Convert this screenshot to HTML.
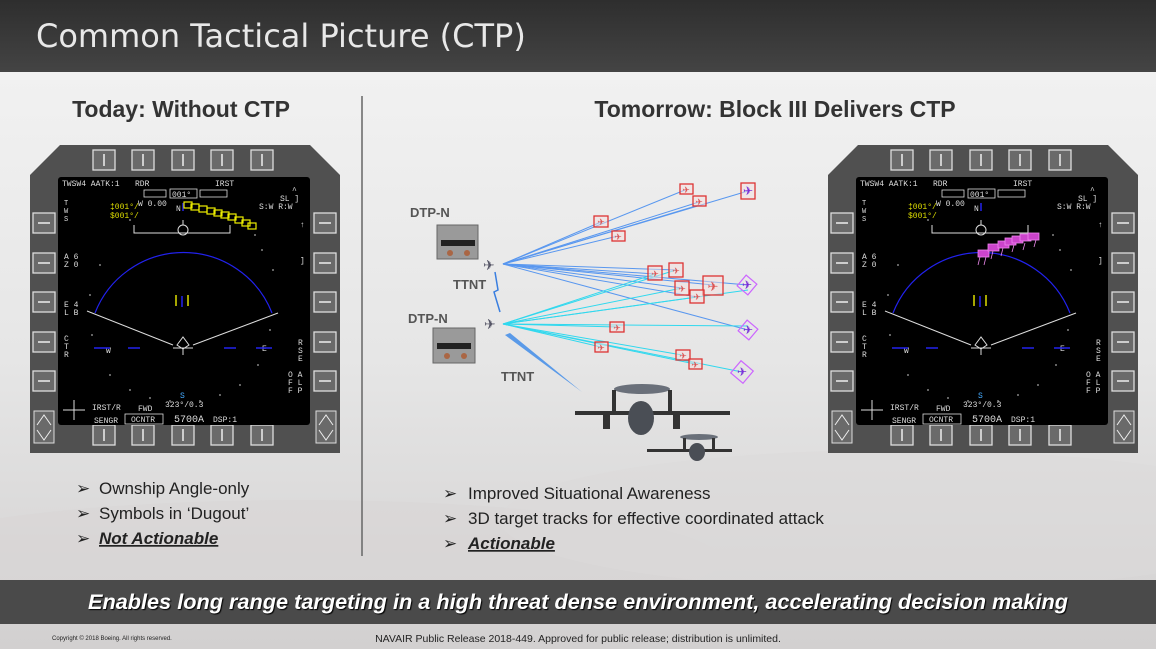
<!DOCTYPE html>
<html><head><meta charset="utf-8"><style>
html,body{margin:0;padding:0;width:1156px;height:649px;overflow:hidden;}
svg{display:block}
</style></head><body>
<svg width="1156" height="649" viewBox="0 0 1156 649" xmlns="http://www.w3.org/2000/svg" font-family="Liberation Sans, sans-serif">
<defs>
<linearGradient id="bg" x1="0" y1="0" x2="0" y2="1">
<stop offset="0" stop-color="#f4f4f4"/><stop offset="0.55" stop-color="#e6e6e6"/><stop offset="1" stop-color="#d2d0d0"/>
</linearGradient>
<linearGradient id="hd" x1="0" y1="0" x2="0" y2="1">
<stop offset="0" stop-color="#2e2e2e"/><stop offset="1" stop-color="#444"/>
</linearGradient>
<g id="btn"><rect x="-11" y="-10" width="22" height="20" fill="#6a6a6a" stroke="#ddd" stroke-width="1.3"/><line x1="0" y1="-6" x2="0" y2="6" stroke="#eee" stroke-width="1.5"/></g>
<g id="sbtn"><rect x="-11" y="-10" width="22" height="20" fill="#6a6a6a" stroke="#ddd" stroke-width="1.3"/><line x1="-6" y1="0" x2="6" y2="0" stroke="#eee" stroke-width="1.5"/></g>
<g id="mfd">
<path d="M0,30 L30,0 L280,0 L310,30 L310,308 L0,308 Z" fill="#505050"/>
<use href="#btn" x="74" y="15"/><use href="#btn" x="113" y="15"/><use href="#btn" x="153" y="15"/><use href="#btn" x="192" y="15"/><use href="#btn" x="232" y="15"/>
<use href="#btn" x="74" y="290"/><use href="#btn" x="113" y="290"/><use href="#btn" x="153" y="290"/><use href="#btn" x="192" y="290"/><use href="#btn" x="232" y="290"/>
<use href="#sbtn" x="14" y="78"/><use href="#sbtn" x="14" y="118"/><use href="#sbtn" x="14" y="157"/><use href="#sbtn" x="14" y="197"/><use href="#sbtn" x="14" y="236"/>
<use href="#sbtn" x="295" y="78"/><use href="#sbtn" x="295" y="118"/><use href="#sbtn" x="295" y="157"/><use href="#sbtn" x="295" y="197"/><use href="#sbtn" x="295" y="236"/>
<rect x="4" y="266" width="20" height="32" fill="#6a6a6a" stroke="#ddd"/><path d="M7,280 L14,270 L21,280 M7,285 L14,295 L21,285" stroke="#eee" fill="none"/>
<rect x="286" y="266" width="20" height="32" fill="#6a6a6a" stroke="#ddd"/><path d="M289,280 L296,270 L303,280 M289,285 L296,295 L303,285" stroke="#eee" fill="none"/>
<rect x="28" y="32" width="252" height="248" rx="3" fill="#000"/>
<g fill="#ddd" font-family="Liberation Mono, monospace" font-size="8">
<text x="32" y="41">TWSW4 AATK:1</text><text x="105" y="41">RDR</text><text x="185" y="41">IRST</text>
<rect x="114" y="45" width="22" height="7" fill="none" stroke="#ddd" stroke-width="0.8"/>
<rect x="140" y="44" width="27" height="9" fill="none" stroke="#ddd" stroke-width="0.8"/><text x="142" y="52">001°</text>
<rect x="170" y="45" width="27" height="7" fill="none" stroke="#ddd" stroke-width="0.8"/>
<text x="108" y="61">W 0.00</text><text x="146" y="66">N</text>
<text x="80" y="64" fill="#dd0">&#x2021;001°/</text><text x="80" y="73" fill="#dd0">$001°/</text>
<text x="229" y="64">S:W  R:W</text><text x="250" y="56">SL ]</text><text x="262" y="48">^</text>
<text x="34" y="60" font-size="7">T</text><text x="34" y="68" font-size="7">W</text><text x="34" y="76" font-size="7">S</text>
<text x="34" y="114">A 6</text><text x="34" y="122">Z 0</text>
<text x="34" y="162">E 4</text><text x="34" y="170">L B</text>
<text x="34" y="196">C</text><text x="34" y="204">T</text><text x="34" y="212">R</text>
<text x="268" y="200">R</text><text x="268" y="208">S</text><text x="268" y="216">E</text>
<text x="258" y="232">O A</text><text x="258" y="240">F L</text><text x="258" y="248">F P</text>
<text x="270" y="82">↑</text><text x="270" y="118">]</text>
<text x="62" y="265">IRST/R</text><text x="64" y="278">SENGR</text><text x="108" y="266">FWD</text>
<rect x="95" y="269" width="38" height="10" fill="none" stroke="#ddd" stroke-width="0.8"/><text x="101" y="277">OCNTR</text>
<text x="135" y="262">323°/0.3</text><text x="144" y="277" font-size="10">5700A</text><text x="183" y="277">DSP:1</text>
<text x="76" y="208">W</text><text x="232" y="206">E</text><text x="150" y="253" fill="#4af">S</text>
</g>
<g stroke="#ddd" fill="none" stroke-width="1">
<path d="M104,80 L104,88 L200,88 L200,80"/><circle cx="153" cy="85" r="5"/><line x1="153" y1="75" x2="153" y2="80"/>
<line x1="57" y1="166" x2="143" y2="200"/><line x1="163" y1="200" x2="248" y2="168"/>
<path d="M147,200 l6,-8 6,8 -6,4 z M143,203 h20 M153,204 v6"/>
<path d="M33,265 h22 M44,255 v20"/>
</g>
<path d="M65,168 A95,95 0 0 1 242,168" stroke="#22e" fill="none" stroke-width="1.2"/>
<g stroke="#22e" stroke-width="1.5"><line x1="152" y1="151" x2="152" y2="162"/><line x1="98" y1="203" x2="110" y2="203"/><line x1="194" y1="203" x2="206" y2="203"/><line x1="64" y1="203" x2="80" y2="203"/><line x1="226" y1="203" x2="242" y2="203"/><line x1="153" y1="58" x2="153" y2="66"/></g>
<g stroke="#dd0" stroke-width="1.5"><line x1="146" y1="150" x2="146" y2="161"/><line x1="158" y1="150" x2="158" y2="161"/></g>
<g fill="#aaa"><circle cx="70" cy="120" r="0.9"/><circle cx="60" cy="150" r="0.9"/><circle cx="62" cy="190" r="0.9"/><circle cx="80" cy="230" r="0.9"/><circle cx="100" cy="245" r="0.9"/><circle cx="120" cy="253" r="0.9"/><circle cx="140" cy="256" r="0.9"/><circle cx="170" cy="256" r="0.9"/><circle cx="190" cy="250" r="0.9"/><circle cx="210" cy="240" r="0.9"/><circle cx="228" cy="220" r="0.9"/><circle cx="240" cy="185" r="0.9"/><circle cx="243" cy="125" r="0.9"/><circle cx="232" cy="105" r="0.9"/><circle cx="225" cy="90" r="0.9"/><circle cx="100" cy="75" r="0.9"/></g>
</g>
</defs>
<rect width="1156" height="649" fill="url(#bg)"/>
<ellipse cx="300" cy="560" rx="420" ry="60" fill="#d8d6d6" opacity="0.6"/>
<ellipse cx="900" cy="520" rx="400" ry="70" fill="#dcdada" opacity="0.5"/>
<rect width="1156" height="72" fill="url(#hd)"/>
<text x="36" y="47" font-size="32" fill="#e8e8e8" font-family="DejaVu Sans, sans-serif">Common Tactical Picture (CTP)</text>
<text x="181" y="117" font-size="23" font-weight="bold" fill="#333" text-anchor="middle">Today: Without CTP</text>
<text x="775" y="117" font-size="23" font-weight="bold" fill="#333" text-anchor="middle">Tomorrow: Block III Delivers CTP</text>
<line x1="362" y1="96" x2="362" y2="556" stroke="#666" stroke-width="1.5"/>

<use href="#mfd" x="30" y="145"/>
<g transform="translate(30,145)" fill="none" stroke="#ee0" stroke-width="1.2">
<rect x="154" y="57" width="8" height="6"/><rect x="161" y="59" width="8" height="6"/><rect x="169" y="61" width="8" height="6"/><rect x="177" y="63" width="8" height="6"/><rect x="184" y="65" width="8" height="6"/><rect x="191" y="67" width="8" height="6"/><rect x="198" y="69" width="8" height="6"/><rect x="205" y="72" width="8" height="6"/><rect x="212" y="75" width="8" height="6"/><rect x="218" y="78" width="8" height="6"/>
</g>
<use href="#mfd" x="828" y="145"/>
<g transform="translate(828,145)" fill="#c4c" stroke="#e8e" stroke-width="0.8">
<rect x="150" y="105" width="11" height="7"/><rect x="160" y="99" width="11" height="7"/><rect x="170" y="96" width="11" height="7"/><rect x="177" y="93" width="11" height="7"/><rect x="184" y="91" width="11" height="7"/><rect x="192" y="89" width="11" height="7"/><rect x="200" y="88" width="11" height="7"/>
<path d="M152,112 l-2,8 M158,112 l-2,8 M165,106 l-2,8 M175,103 l-2,8 M186,100 l-2,7 M197,98 l-2,7 M208,95 l-2,7" fill="none"/>
</g>

<g stroke="#4a8ff0" stroke-width="1" fill="none" opacity="0.9">
<line x1="503" y1="264" x2="601" y2="222"/><line x1="503" y1="264" x2="685" y2="190"/><line x1="503" y1="264" x2="699" y2="202"/><line x1="503" y1="264" x2="748" y2="191"/><line x1="503" y1="264" x2="618" y2="236"/><line x1="503" y1="264" x2="699" y2="205"/>
<line x1="503" y1="264" x2="655" y2="274"/><line x1="503" y1="264" x2="676" y2="270"/><line x1="503" y1="264" x2="682" y2="288"/><line x1="503" y1="264" x2="713" y2="285"/><line x1="503" y1="264" x2="697" y2="297"/><line x1="503" y1="264" x2="748" y2="285"/><line x1="503" y1="264" x2="748" y2="330"/>
</g>
<g stroke="#30d8ee" stroke-width="1" fill="none">
<line x1="503" y1="324" x2="655" y2="274"/><line x1="503" y1="324" x2="676" y2="270"/><line x1="503" y1="324" x2="682" y2="288"/><line x1="503" y1="324" x2="697" y2="297"/><line x1="503" y1="324" x2="748" y2="290"/><line x1="503" y1="324" x2="617" y2="327"/><line x1="503" y1="324" x2="748" y2="326"/><line x1="503" y1="324" x2="601" y2="347"/><line x1="503" y1="324" x2="682" y2="355"/><line x1="503" y1="324" x2="695" y2="364"/><line x1="503" y1="324" x2="742" y2="372"/>
</g>
<g fill="#f4e0e0" fill-opacity="0.5" stroke="#d33" stroke-width="1.3">
<rect x="594" y="216" width="14" height="11"/><rect x="680" y="184" width="13" height="10"/><rect x="693" y="196" width="13" height="10"/><rect x="612" y="231" width="13" height="10"/><rect x="648" y="266" width="14" height="14"/><rect x="669" y="263" width="14" height="14"/><rect x="675" y="281" width="14" height="14"/><rect x="703" y="276" width="20" height="19"/><rect x="690" y="290" width="14" height="13"/><rect x="610" y="322" width="14" height="10"/><rect x="595" y="342" width="13" height="10"/><rect x="676" y="350" width="14" height="10"/><rect x="689" y="359" width="13" height="10"/>
<rect x="741" y="183" width="14" height="16"/>
</g>
<g fill="#d55" font-size="9" text-anchor="middle"><text x="601" y="225">✈</text><text x="686" y="193">✈</text><text x="699" y="205">✈</text><text x="618" y="240">✈</text><text x="655" y="277">✈</text><text x="676" y="274">✈</text><text x="682" y="292">✈</text><text x="713" y="291" font-size="13">✈</text><text x="697" y="300">✈</text><text x="617" y="331">✈</text><text x="601" y="351">✈</text><text x="683" y="359">✈</text><text x="695" y="368">✈</text></g>
<g fill="none" stroke="#c6f" stroke-width="1.2">
<rect x="740" y="278" width="14" height="14" transform="rotate(40 747 285)"/><rect x="741" y="323" width="14" height="14" transform="rotate(40 748 330)"/><rect x="734" y="364" width="16" height="16" transform="rotate(40 742 372)"/>
</g>
<g fill="#7a2fd8" font-size="12" text-anchor="middle"><text x="748" y="195">✈</text><text x="747" y="289">✈</text><text x="748" y="334">✈</text><text x="742" y="376">✈</text></g>
<g fill="#556" font-size="14"><text x="483" y="270">✈</text><text x="484" y="329">✈</text></g>
<path d="M495,272 L498,290 L494,292 L500,312" stroke="#3a7fe0" stroke-width="1.5" fill="none"/>
<path d="M505,335 L582,392 L510,333 Z" fill="#5a9ae8"/>
<g font-weight="bold" font-size="13" fill="#555"><text x="410" y="217">DTP-N</text><text x="408" y="323">DTP-N</text><text x="453" y="289">TTNT</text><text x="501" y="381">TTNT</text></g>
<g><rect x="437" y="225" width="41" height="34" fill="#9a9a9a" stroke="#666"/><rect x="441" y="240" width="34" height="6" fill="#222"/><circle cx="450" cy="253" r="3" fill="#a64"/><circle cx="467" cy="253" r="3" fill="#a64"/>
<rect x="433" y="328" width="42" height="35" fill="#9a9a9a" stroke="#666"/><rect x="437" y="343" width="34" height="6" fill="#222"/><circle cx="447" cy="356" r="3" fill="#a64"/><circle cx="464" cy="356" r="3" fill="#a64"/></g>
<g fill="#333">
<ellipse cx="642" cy="389" rx="28" ry="5" fill="#6a707a"/><rect x="612" y="390" width="4" height="24"/><rect x="668" y="390" width="4" height="24"/><rect x="575" y="411" width="155" height="4"/><ellipse cx="641" cy="418" rx="13" ry="17" fill="#4a4e55"/><rect x="603" y="411" width="7" height="18"/><rect x="673" y="411" width="7" height="18"/>
<ellipse cx="699" cy="437" rx="19" ry="3" fill="#6a707a"/><rect x="647" y="449" width="85" height="3"/><ellipse cx="697" cy="452" rx="8" ry="9" fill="#4a4e55"/><rect x="683" y="438" width="3" height="12"/><rect x="712" y="438" width="3" height="12"/>
</g>
<g font-size="17" fill="#222">
<text x="76" y="494">➢</text><text x="99" y="494">Ownship Angle-only</text>
<text x="76" y="519">➢</text><text x="99" y="519">Symbols in ‘Dugout’</text>
<text x="76" y="544">➢</text><text x="99" y="544" font-weight="bold" font-style="italic" text-decoration="underline">Not Actionable</text>
<text x="443" y="499">➢</text><text x="468" y="499">Improved Situational Awareness</text>
<text x="443" y="524">➢</text><text x="468" y="524">3D target tracks for effective coordinated attack</text>
<text x="443" y="549">➢</text><text x="468" y="549" font-weight="bold" font-style="italic" text-decoration="underline">Actionable</text>
</g>
<rect x="0" y="580" width="1156" height="44" fill="#4a4a4a"/>
<text x="88" y="609" font-size="21" font-weight="bold" font-style="italic" fill="#fff" textLength="980" lengthAdjust="spacingAndGlyphs" style="text-shadow:1px 1px 1px #000">Enables long range targeting in a high threat dense environment, accelerating decision making</text>
<text x="52" y="640" font-size="6" fill="#222">Copyright © 2018 Boeing. All rights reserved.</text>
<text x="578" y="642" font-size="10.5" fill="#222" text-anchor="middle">NAVAIR Public Release 2018-449. Approved for public release; distribution is unlimited.</text>
</svg>
</body></html>
